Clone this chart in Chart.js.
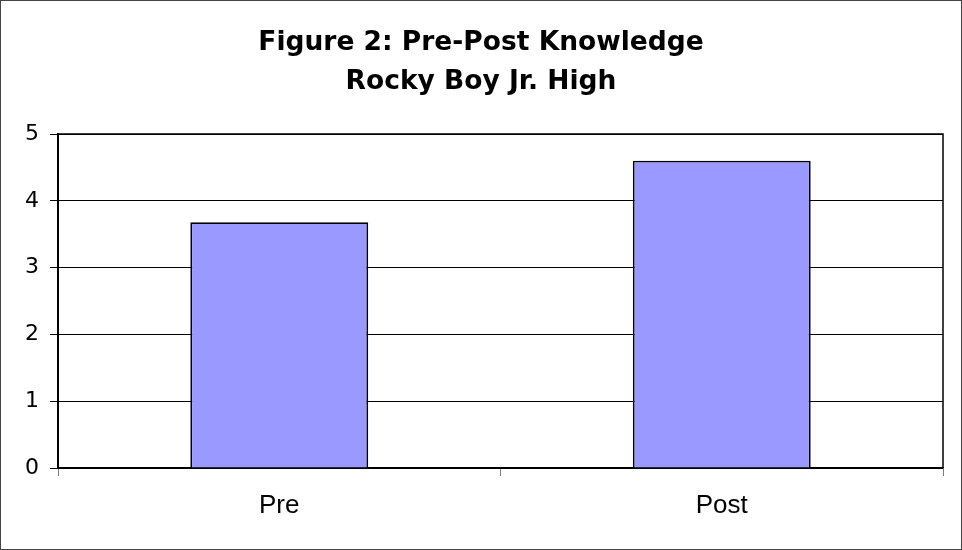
<!DOCTYPE html>
<html lang="en">
<head>
  <meta charset="UTF-8">
  <title>Figure 2: Pre-Post Knowledge</title>
  <script src="https://cdn.jsdelivr.net/npm/chart.js"></script>
  <style>
    body { margin: 0; background: #fff; }
    #frame {
      width: 960px;
      height: 548px;
      border: 1px solid #444;
    }
  </style>
</head>
<body>
  <div id="frame">
    <canvas id="chart" width="960" height="548"></canvas>
  </div>

  <script>
    // Data
    const categories = ['Pre', 'Post'];
    const knowledgeScores = [3.68, 4.6];
    const yTickValues = [0, 1, 2, 3, 4, 5];
    const titleLines = ['Figure 2: Pre-Post Knowledge', 'Rocky Boy Jr. High'];

    const arial = '"Liberation Sans", Arial, sans-serif';
    const wide = '"DejaVu Sans", Arial, sans-serif';

    // top and right edge of the plot area (Excel style frame)
    const plotFrame = {
      id: 'plotFrame',
      afterDraw(chart) {
        const { ctx, chartArea: a } = chart;
        ctx.save();
        ctx.strokeStyle = '#000';
        ctx.lineWidth = 1.5;
        ctx.beginPath();
        ctx.moveTo(a.left, a.top);
        ctx.lineTo(a.right, a.top);
        ctx.lineTo(a.right, a.bottom);
        ctx.stroke();
        ctx.restore();
      }
    };

    new Chart(document.getElementById('chart'), {
      type: 'bar',
      data: {
        labels: categories,
        datasets: [{
          data: knowledgeScores,
          backgroundColor: '#9999FF',
          borderColor: '#000',
          borderWidth: 1.8,
          categoryPercentage: 1,
          barPercentage: 0.402
        }]
      },
      options: {
        responsive: false,
        animation: false,
        layout: { padding: 0 },
        plugins: {
          legend: { display: false },
          tooltip: { enabled: false },
          title: {
            display: true,
            text: titleLines,
            color: '#000',
            font: { family: wide, size: 26.5, weight: 'bold', lineHeight: '39px' },
            padding: { top: 23, bottom: 32 }
          }
        },
        scales: {
          x: {
            grid: {
              offset: true,
              drawOnChartArea: false,
              tickLength: 8,
              tickColor: '#808080',
              tickWidth: 1
            },
            border: { color: '#000', width: 1.5 },
            ticks: {
              color: '#000',
              padding: 14,
              font: { family: arial, size: 26 }
            },
            afterFit(scale) { scale.height = 81; }
          },
          y: {
            min: 0,
            max: 5,
            afterBuildTicks(scale) {
              scale.ticks = yTickValues.map(v => ({ value: v }));
            },
            grid: {
              color: '#000',
              lineWidth: 1,
              tickLength: 8,
              tickColor: '#000'
            },
            border: { color: '#000', width: 2 },
            ticks: {
              color: '#000',
              padding: 11,
              font: { family: wide, size: 22 }
            },
            afterFit(scale) { scale.width = 57; }
          },
          // empty axis that only reserves the gap right of the plot area
          gap: {
            position: 'right',
            grid: { display: false },
            border: { display: false },
            ticks: { display: false },
            afterFit(scale) { scale.width = 18; }
          }
        }
      },
      plugins: [plotFrame]
    });
  </script>
</body>
</html>
